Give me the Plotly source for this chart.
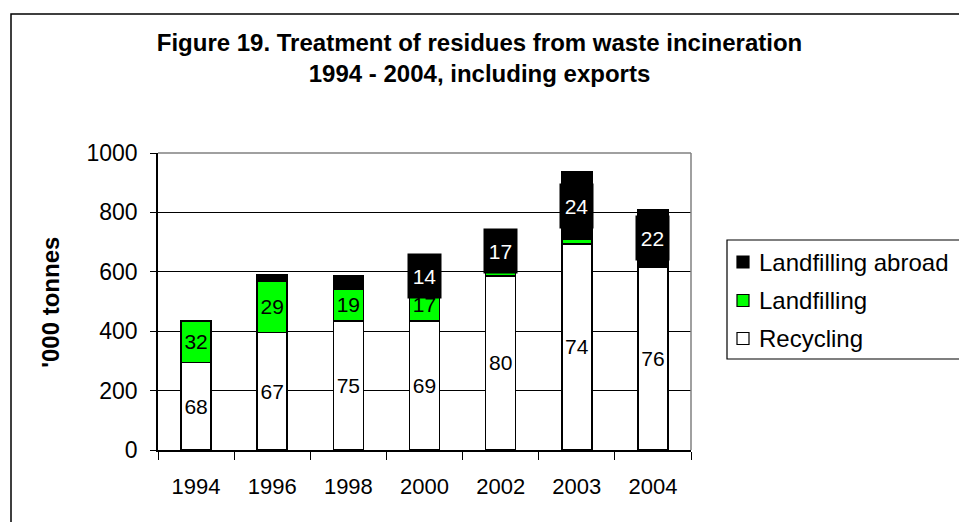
import plotly.graph_objects as go

# Residues from waste incineration, '000 tonnes
years = ["1994", "1996", "1998", "2000", "2002", "2003", "2004"]
recycling = [294, 395, 435, 435, 586, 694, 615]
landfilling = [141, 173, 107, 107, 22, 15, 0]
landfilling_abroad = [0, 23, 44, 88, 125, 228, 195]

# Share of each treatment in the year's total (%), as printed on the bars
recycling_pct = ["68", "67", "75", "69", "80", "74", "76"]
landfilling_pct = ["32", "29", "19", "17", "", "", ""]
abroad_pct = ["", "", "", "14", "17", "24", "22"]

series_names = ["Landfilling abroad", "Landfilling", "Recycling"]
series_colors = ["#000000", "#00FF00", "#FFFFFF"]

FONT = "Arial, Liberation Sans, sans-serif"

fig = go.Figure()

bar_style = dict(
    marker_line_color="#000000",
    marker_line_width=1.6,
    textposition="inside",
    insidetextanchor="middle",
    textangle=0,
    constraintext="none",
    textfont=dict(family=FONT, size=21, color="#000000"),
    showlegend=False,
    hoverinfo="x+y+name",
)

fig.add_trace(go.Bar(x=years, y=recycling, name="Recycling", text=recycling_pct,
                     marker_color=series_colors[2], **bar_style))
fig.add_trace(go.Bar(x=years, y=landfilling, name="Landfilling", text=landfilling_pct,
                     marker_color=series_colors[1], **bar_style))
fig.add_trace(go.Bar(x=years, y=landfilling_abroad, name="Landfilling abroad",
                     marker_color=series_colors[0], **bar_style))

annotations = []

# White-on-black share labels for exports, centred on their segment
# (category axis: positions given as category index)
for i, (r, l, a, lab) in enumerate(zip(recycling, landfilling, landfilling_abroad, abroad_pct)):
    if lab:
        annotations.append(dict(
            x=i, y=r + l + a / 2, xref="x", yref="y", text=lab, showarrow=False,
            font=dict(family=FONT, size=21, color="#FFFFFF"),
            bgcolor="#000000", width=31, height=42, align="center", valign="middle",
            borderpad=1,
        ))

# Y-axis title
annotations.append(dict(
    x=-0.202, y=0.497, xref="paper", yref="paper", text="<b>'000 tonnes</b>",
    textangle=-90, showarrow=False, xanchor="center", yanchor="middle",
    font=dict(family=FONT, size=24, color="#000000"),
))

# Hand-placed legend: plot area spans x 158..691 px, y 153..450 px
def px_x(px):
    return (px - 158) / 533.0


def px_y(py):
    return (450 - py) / 297.0


shapes = []
legend_rows = [262, 300.5, 338.5]
for name, color, cy in zip(series_names, series_colors, legend_rows):
    shapes.append(dict(type="rect", xref="paper", yref="paper",
                       x0=px_x(737), x1=px_x(749), y0=px_y(cy + 6), y1=px_y(cy - 6),
                       fillcolor=color, line=dict(color="#000000", width=1.2)))
    annotations.append(dict(x=px_x(757), y=px_y(cy), xref="paper", yref="paper",
                            text=name, showarrow=False, xanchor="left", yanchor="middle",
                            font=dict(family=FONT, size=24, color="#000000")))

# Legend frame (runs off the right edge)
shapes.append(dict(type="rect", xref="paper", yref="paper",
                   x0=px_x(727), x1=px_x(1000), y0=px_y(359), y1=px_y(240),
                   line=dict(color="#000000", width=1.2), fillcolor="rgba(0,0,0,0)"))

# Grey frame on top and right of the plot area
shapes.append(dict(type="line", xref="paper", yref="paper", x0=0, x1=1, y0=1, y1=1,
                   line=dict(color="#808080", width=1.5), layer="above"))
shapes.append(dict(type="line", xref="paper", yref="paper", x0=1, x1=1, y0=0, y1=1,
                   line=dict(color="#808080", width=1.5), layer="above"))

# Outer chart border (left and top edges visible)
shapes.append(dict(type="rect", xref="paper", yref="paper",
                   x0=px_x(11), x1=px_x(1100), y0=px_y(700), y1=px_y(14),
                   line=dict(color="#000000", width=1.5), fillcolor="rgba(0,0,0,0)"))

fig.update_layout(
    barmode="stack",
    bargap=0.605,
    width=959,
    height=522,
    margin=dict(l=158, r=268, t=153, b=72, pad=0),
    paper_bgcolor="#FFFFFF",
    plot_bgcolor="#FFFFFF",
    title=dict(
        text="<b>Figure 19. Treatment of residues from waste incineration<br>1994 - 2004, including exports</b>",
        x=0.5, xref="container", xanchor="center",
        y=1 - 51 / 522, yref="container", yanchor="middle",
        font=dict(family=FONT, size=24, color="#000000"),
    ),
    xaxis=dict(
        type="category",
        range=[-0.5, len(years) - 0.5],
        showline=True, linecolor="#000000", linewidth=1.5,
        ticks="outside", tickson="boundaries", ticklen=8, tickcolor="#000000", tickwidth=1.2,
        tickfont=dict(family=FONT, size=22, color="#000000"),
        ticklabelstandoff=16,
        tickangle=0,
        showgrid=False,
    ),
    yaxis=dict(
        range=[0, 1000], tickvals=[0, 200, 400, 600, 800, 1000],
        showline=True, linecolor="#000000", linewidth=1.5,
        ticks="outside", ticklen=6, tickcolor="#000000", tickwidth=1.2,
        tickfont=dict(family=FONT, size=23, color="#000000"),
        ticklabelstandoff=8,
        showgrid=True, gridcolor="#000000", gridwidth=1,
        zeroline=False,
    ),
    annotations=annotations,
    shapes=shapes,
)

fig.write_html("out.html")
